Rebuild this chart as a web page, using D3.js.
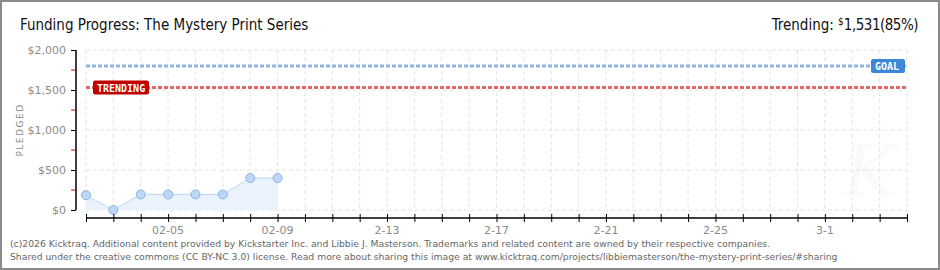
<!DOCTYPE html>
<html>
<head>
<meta charset="utf-8">
<script src="https://cdn.jsdelivr.net/npm/d3@7"></script>
<style>
  body { margin: 0; background: #fff; }
  svg { display: block; }
</style>
</head>
<body>
<svg id="chart" width="940" height="270"></svg>
<script>
// values
var dates = ["2026-02-02", "2026-02-03", "2026-02-04", "2026-02-05",
             "2026-02-06", "2026-02-07", "2026-02-08", "2026-02-09"];
var pledged = [185, 0, 195, 195, 195, 195, 400, 400];
var goal = 1800;
var trending = 1531;
var yTicks = [0, 500, 1000, 1500, 2000];
var yMinor = [250, 750, 1250, 1750];
var xLabels = [["2026-02-05", "02-05"], ["2026-02-09", "02-09"], ["2026-02-13", "2-13"],
               ["2026-02-17", "2-17"], ["2026-02-21", "2-21"], ["2026-02-25", "2-25"],
               ["2026-03-01", "3-1"]];
var startDay = "2026-02-02", endDay = "2026-03-04";

var parse = d3.utcParse("%Y-%m-%d");
var svg = d3.select("#chart");
var W = 940, H = 270;

// frame
svg.append("rect").attr("x", 1).attr("y", 1).attr("width", W - 2).attr("height", H - 2)
  .attr("fill", "#fff").attr("stroke", "#8a8a8a").attr("stroke-width", 2);

var x = d3.scaleUtc().domain([parse(startDay), parse(endDay)]).range([86, 907]);
var y = d3.scaleLinear().domain([0, 2000]).range([210, 50]);
var days = d3.utcDay.range(parse(startDay), d3.utcDay.offset(parse(endDay), 1));

// watermark
svg.append("text").attr("x", 870).attr("y", 195).attr("text-anchor", "middle")
  .attr("font-family", "DejaVu Serif").attr("font-style", "italic").attr("font-size", 70)
  .attr("fill", "#fafafa").text("K");

// grid
var grid = svg.append("g").attr("stroke", "#e4e4e4").attr("stroke-dasharray", "4,3");
grid.selectAll(".v").data(days).enter().append("line")
  .attr("x1", function(d) { return x(d); }).attr("x2", function(d) { return x(d); })
  .attr("y1", y(2000)).attr("y2", y(0));
grid.selectAll(".h").data(yTicks).enter().append("line")
  .attr("x1", x(parse(startDay))).attr("x2", x(parse(endDay)))
  .attr("y1", function(d) { return y(d); }).attr("y2", function(d) { return y(d); });

// area + line + points
var pts = dates.map(function(d, i) { return {date: parse(d), v: pledged[i]}; });
svg.append("path").datum(pts)
  .attr("d", d3.area().x(function(d) { return x(d.date); }).y0(y(0)).y1(function(d) { return y(d.v); }))
  .attr("fill", "#eaf3fd");
svg.append("path").datum(pts)
  .attr("d", d3.line().x(function(d) { return x(d.date); }).y(function(d) { return y(d.v); }))
  .attr("fill", "none").attr("stroke", "#b9d6f4").attr("stroke-width", 1);
svg.selectAll(".pt").data(pts).enter().append("circle")
  .attr("cx", function(d) { return x(d.date); }).attr("cy", function(d) { return y(d.v); })
  .attr("r", 4.5).attr("fill", "#bcd8f6").attr("stroke", "#8fb1d9").attr("stroke-width", 1);

// goal and trending lines
svg.append("line").attr("x1", 86).attr("x2", 907).attr("y1", y(goal)).attr("y2", y(goal))
  .attr("stroke", "#8fb6e0").attr("stroke-width", 3).attr("stroke-dasharray", "4,2");
svg.append("line").attr("x1", 86).attr("x2", 907).attr("y1", y(trending)).attr("y2", y(trending))
  .attr("stroke", "#e06a6a").attr("stroke-width", 3).attr("stroke-dasharray", "4,2");

function badge(cx, cy, w, label, fill) {
  var g = svg.append("g");
  g.append("rect").attr("x", cx).attr("y", cy - 7).attr("width", w).attr("height", 14)
    .attr("rx", 2).attr("fill", fill);
  g.append("text").attr("x", cx + 4).attr("y", cy + 4).attr("fill", "#fff")
    .attr("font-family", "DejaVu Sans Mono").attr("font-weight", "bold").attr("font-size", 10)
    .text(label);
}
badge(871, y(goal), 34, "GOAL", "#3a88d6");
badge(93, y(trending), 56, "TRENDING", "#c00000");

// axes
var yAxis = svg.append("g").attr("transform", "translate(76,0)")
  .call(d3.axisLeft(y).tickValues(yTicks).tickSize(5)
    .tickFormat(function(d) { return "$" + d3.format(",")(d); }));
yAxis.select(".domain").attr("d", "M0," + y(2000) + "V" + y(0)).attr("stroke", "#000").attr("stroke-width", 1.5);
yAxis.selectAll("text").attr("font-family", "DejaVu Sans").attr("font-size", 11).attr("fill", "#8a8a8a").attr("dx", -2);
svg.selectAll(".ym").data(yMinor).enter().append("line")
  .attr("x1", 71).attr("x2", 76).attr("y1", function(d) { return y(d); }).attr("y2", function(d) { return y(d); })
  .attr("stroke", "#e00000");

var xAxis = svg.append("g").attr("transform", "translate(0,218)")
  .call(d3.axisBottom(x).tickValues(days).tickSize(4).tickFormat(""));
xAxis.select(".domain").attr("d", "M" + x(parse(startDay)) + ",0H" + x(parse(endDay))).attr("stroke", "#000").attr("stroke-width", 1.5);
xAxis.selectAll(".tick line").attr("y1", -4).attr("y2", 4);
svg.selectAll(".xl").data(xLabels).enter().append("text")
  .attr("x", function(d) { return x(parse(d[0])); }).attr("y", 234)
  .attr("text-anchor", "middle").attr("font-family", "DejaVu Sans").attr("font-size", 11)
  .attr("fill", "#8a8a8a").text(function(d) { return d[1]; });

svg.append("text").attr("transform", "translate(23,130) rotate(-90)").attr("text-anchor", "middle")
  .attr("font-family", "DejaVu Sans").attr("font-size", 9).attr("fill", "#888")
  .attr("letter-spacing", 1.5).text("PLEDGED");

// titles
svg.append("text").attr("x", 20).attr("y", 30).attr("font-family", "DejaVu Sans Condensed")
  .attr("font-size", 15).attr("fill", "#111").text("Funding Progress: The Mystery Print Series");
var tr = svg.append("text").attr("x", 918).attr("y", 30).attr("text-anchor", "end")
  .attr("font-family", "DejaVu Sans Condensed").attr("font-size", 15).attr("fill", "#111");
tr.append("tspan").text("Trending:  ");
tr.append("tspan").attr("font-size", 10).attr("dy", -5).text("$");
tr.append("tspan").attr("dy", 5).attr("letter-spacing", -0.5).text("1,531(85%)");

// footer
var foot = ["(c)2026 Kicktraq. Additional content provided by Kickstarter Inc. and Libbie J. Masterson. Trademarks and related content are owned by their respective companies.",
            "Shared under the creative commons (CC BY-NC 3.0) license. Read more about sharing this image at www.kicktraq.com/projects/libbiemasterson/the-mystery-print-series/#sharing"];
svg.selectAll(".ft").data(foot).enter().append("text")
  .attr("x", 10).attr("y", function(d, i) { return 247 + i * 13; })
  .attr("font-family", "DejaVu Sans").attr("font-size", 9.25).attr("fill", "#666")
  .text(function(d) { return d; });
</script>
</body>
</html>
